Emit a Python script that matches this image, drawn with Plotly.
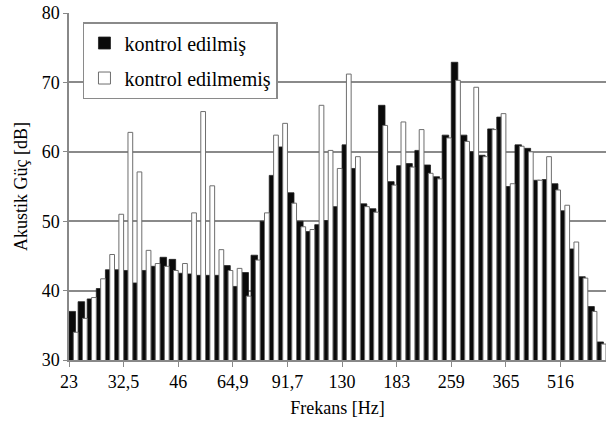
import plotly.graph_objects as go

# 1/12-octave bands, labels every 6th band
tick_labels = ["23", "32,5", "46", "64,9", "91,7", "130", "183", "259", "365", "516"]

kontrol_edilmis = [
    37.0, 38.4, 38.8, 40.3, 43.0, 43.0,
    42.9, 41.1, 42.9, 43.5, 44.8, 44.5,
    42.5, 42.4, 42.2, 42.2, 42.2, 43.6,
    40.6, 42.6, 45.1, 50.0, 56.6, 60.7,
    54.1, 50.0, 48.5, 49.5, 50.1, 52.1,
    61.0, 57.6, 52.5, 51.8, 66.7, 55.7,
    58.0, 58.3, 60.2, 58.1, 56.4, 62.4,
    72.9, 62.4, 60.0, 59.5, 63.3, 65.0,
    55.0, 61.0, 60.5, 55.9, 56.0, 55.4,
    51.5, 46.0, 42.0, 37.7, 32.6,
]
kontrol_edilmemis = [
    34.0, 36.0, 39.0, 41.7, 45.2, 51.0,
    62.8, 57.1, 45.8, 43.9, 43.5, 42.9,
    43.9, 51.2, 65.8, 55.1, 45.9, 42.9,
    43.2, 39.2, 44.4, 51.2, 62.4, 64.1,
    52.6, 49.2, 48.8, 66.7, 60.2, 57.6,
    71.2, 59.3, 52.1, 51.3, 63.8, 55.2,
    64.3, 57.8, 63.2, 56.9, 56.1, 62.0,
    70.3, 61.5, 69.3, 59.3, 63.2, 65.5,
    55.4, 60.8, 60.0, 55.9, 59.3, 54.5,
    52.3, 47.0, 41.8, 37.0, 32.3,
]

n = len(kontrol_edilmis)
x = list(range(n))
tickvals = [i * 6 - 0.5 for i in range(len(tick_labels))]

FONT = "Liberation Serif"

fig = go.Figure()
fig.add_trace(go.Bar(
    x=x, y=kontrol_edilmis, name="kontrol edilmiş",
    offset=-0.5, width=0.72,
    marker=dict(color="#0a0a0a", line=dict(color="#222222", width=0.8)),
    legendgroup="a",
))
fig.add_trace(go.Bar(
    x=x, y=kontrol_edilmemis, name="kontrol edilmemiş",
    offset=-0.02, width=0.52,
    marker=dict(color="#ffffff", line=dict(color="#6e6e6e", width=1)),
    legendgroup="b",
))

tickfont = dict(family=FONT, size=18, color="black")

fig.update_layout(
    width=608, height=428,
    margin=dict(l=69, r=2, t=13, b=68, autoexpand=False),
    barmode="overlay",
    paper_bgcolor="white", plot_bgcolor="white",
    font=dict(family=FONT, size=18, color="black"),
    showlegend=True,
    legend=dict(
        x=0.026, y=0.974, xanchor="left", yanchor="top",
        bgcolor="white", bordercolor="#8a8a8a", borderwidth=1.5,
        font=dict(family=FONT, size=20, color="black"),
        tracegroupgap=6, traceorder="grouped",
    ),
    xaxis=dict(
        automargin=False,
        range=[-0.5, n - 0.5],
        tickmode="array", tickvals=tickvals, ticktext=tick_labels,
        tickfont=tickfont,
        ticks="outside", ticklen=5, tickcolor="#888888",
        showgrid=False, zeroline=False,
        showline=True, linecolor="#888888", linewidth=1.5,
        title=dict(text="Frekans [Hz]", standoff=10, font=dict(family=FONT, size=18)),
    ),
    yaxis=dict(
        automargin=False,
        range=[30, 80],
        tickmode="array", tickvals=[30, 40, 50, 60, 70, 80],
        tickfont=tickfont,
        ticks="outside", ticklen=4, tickcolor="#888888",
        showgrid=True, gridcolor="#8a8a8a", gridwidth=1.5,
        zeroline=False,
        showline=True, linecolor="#888888", linewidth=1.5,
        title=dict(text="Akustik Güç [dB]", standoff=9, font=dict(family=FONT, size=18)),
    ),
)

fig.write_html(
    "out.html",
    config={"displayModeBar": False},
    post_script="document.body.style.margin='0';document.body.style.overflow='hidden';",
)
